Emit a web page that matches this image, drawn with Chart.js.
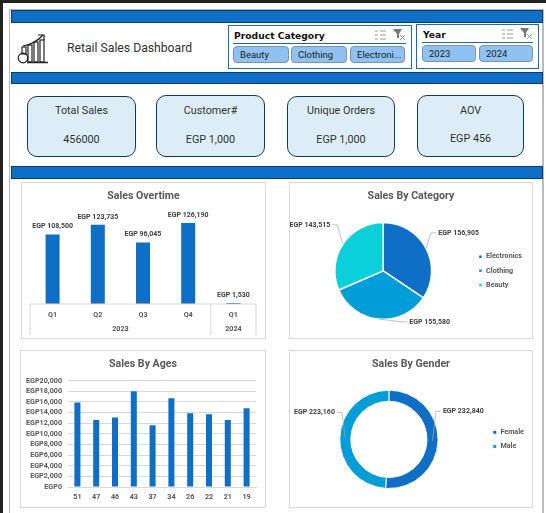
<!DOCTYPE html>
<html>
<head>
<meta charset="utf-8">
<script src="https://cdn.jsdelivr.net/npm/chart.js@4"></script>
<style>
html, body { margin: 0; padding: 0; }
body { width: 546px; height: 513px; overflow: hidden; background: #fff; font-family: Roboto, sans-serif; color: #222; position: relative; }
.abs { position: absolute; box-sizing: border-box; }
.band { left: 11px; width: 532px; background: #0f6fc6; border: 1px solid #0b3a66; }
.frame { left: 9px; top: 9px; width: 535px; height: 504px; border-left: 1px solid #bbb; border-top: 1px solid #bbb; border-right: 2px solid #bbb; }
.title { left: 67px; top: 41px; font-size: 12.2px; color: #333; }
.slicer { border: 1px solid #1d6aa8; background: #fff; }
.slicer b { position: absolute; font: bold 9.2px "DejaVu Sans", sans-serif; color: #111; }
.slicer hr { position: absolute; margin: 0; border: 0; height: 1px; background: #1d6aa8; }
.slicer svg { position: absolute; top: 3px; }
.btn { position: absolute; top: 20px; height: 17px; background: #8fc1f2; border: 1px solid #7a93ad; border-radius: 4px; font-size: 9.5px; line-height: 15px; padding-left: 6px; box-sizing: border-box; color: #222; white-space: nowrap; overflow: hidden; }
.kpi { background: #dcedf8; border: 1px solid #123a5c; border-radius: 10px; text-align: center; font-size: 10.8px; color: #333; }
.kpi span { position: absolute; left: 0; right: 0; }
.card { border: 1px solid #d9d9d9; background: #fff; }
.card canvas { display: block; }
</style>
</head>
<body>
<div class="abs" style="left:0;top:0;width:546px;height:3px;background:#222"></div>
<div class="abs" style="left:0;top:0;width:3px;height:513px;background:#222"></div>
<div class="abs frame"></div>
<div class="abs band" style="top:10px;height:13px"></div>
<div class="abs band" style="top:72px;height:12px"></div>
<div class="abs band" style="top:166px;height:13px"></div>

<svg class="abs" style="left:17px;top:33px" width="32" height="31" viewBox="0 0 32 31" fill="none" stroke="#222" stroke-width="1.2">
  <path d="M6 13 Q18 11 26 2"/><path d="M21 2h6v5"/>
  <rect x="5" y="14" width="4" height="7"/><rect x="11" y="12" width="4" height="17"/><rect x="17" y="9" width="4" height="20"/><rect x="23" y="7" width="4" height="22"/>
  <path d="M10 29.5h21" stroke-width="1.5"/><circle cx="6" cy="25" r="4.8"/>
</svg>
<div class="abs title">Retail Sales Dashboard</div>

<div class="abs slicer" style="left:228px;top:25px;width:184px;height:44px">
  <b style="left:5px;top:4px">Product Category</b>
  <svg style="left:145px" width="13" height="12" viewBox="0 0 13 12" stroke="#999" fill="none"><path d="M1 2h3M1 6h3M1 10h3M6 2h6M6 6h6M6 10h6"/></svg>
  <svg style="left:164px" width="13" height="12" viewBox="0 0 13 12"><path d="M0 0h9L6 5v4H4V5z" fill="#777"/><path d="M7 6l5 5M12 6l-5 5" stroke="#999"/></svg>
  <hr style="left:4px;right:5px;top:17px">
  <div class="btn" style="left:4px;width:56px">Beauty</div>
  <div class="btn" style="left:62px;width:56px">Clothing</div>
  <div class="btn" style="left:121px;width:55px">Electroni...</div>
</div>
<div class="abs slicer" style="left:416px;top:24px;width:123px;height:45px">
  <b style="left:6px;top:4px">Year</b>
  <svg style="left:84px" width="13" height="12" viewBox="0 0 13 12" stroke="#999" fill="none"><path d="M1 2h3M1 6h3M1 10h3M6 2h6M6 6h6M6 10h6"/></svg>
  <svg style="left:103px" width="13" height="12" viewBox="0 0 13 12"><path d="M0 0h9L6 5v4H4V5z" fill="#777"/><path d="M7 6l5 5M12 6l-5 5" stroke="#999"/></svg>
  <hr style="left:5px;right:5px;top:17px">
  <div class="btn" style="left:5px;width:54px">2023</div>
  <div class="btn" style="left:62px;width:54px">2024</div>
</div>

<div class="abs kpi" style="left:27px;top:96px;width:109px;height:61px"><span style="top:7px">Total Sales</span><span style="top:36px">456000</span></div>
<div class="abs kpi" style="left:156px;top:95px;width:109px;height:62px"><span style="top:8px">Customer#</span><span style="top:37px">EGP 1,000</span></div>
<div class="abs kpi" style="left:287px;top:96px;width:108px;height:61px"><span style="top:7px">Unique Orders</span><span style="top:36px">EGP 1,000</span></div>
<div class="abs kpi" style="left:417px;top:95px;width:107px;height:62px"><span style="top:8px">AOV</span><span style="top:36px">EGP 456</span></div>

<div class="abs card" style="left:21px;top:182px;width:245px;height:157px"><canvas id="salesOvertime" width="243" height="155"></canvas></div>
<div class="abs card" style="left:289px;top:182px;width:244px;height:157px"><canvas id="salesCategory" width="242" height="155"></canvas></div>
<div class="abs card" style="left:20px;top:350px;width:246px;height:158px"><canvas id="salesAges" width="244" height="156"></canvas></div>
<div class="abs card" style="left:289px;top:350px;width:244px;height:158px"><canvas id="salesGender" width="242" height="156"></canvas></div>

<script>
const quarterLabels = ["Q1", "Q2", "Q3", "Q4", "Q1"];
const quarterYears = ["2023", "2023", "2023", "2023", "2024"];
const quarterValues = [108500, 123735, 96045, 126190, 1530];

const categoryLabels = ["Electronics", "Clothing", "Beauty"];
const categoryValues = [156905, 155580, 143515];

const ageLabels = ["51", "47", "46", "43", "37", "34", "26", "22", "21", "19"];
const ageValues = [15900, 12600, 13100, 18000, 11600, 16700, 13900, 13700, 12600, 14800];

const genderLabels = ["Female", "Male"];
const genderValues = [232840, 223160];

const BLUE = "#0f6fc6", MID = "#009dd9", CYAN = "#0bd0d9";
const GREY = "#595959", GRID = "#d9d9d9";
const FONT = "Roboto, sans-serif";

const egp = (v) => "EGP " + v.toLocaleString("en-US");

Chart.defaults.font.family = FONT;
Chart.defaults.animation = false;
Chart.defaults.responsive = false;
Chart.defaults.plugins.tooltip.enabled = false;

const titleOpts = (text, gap) => ({
    display: true,
    text: text,
    color: GREY,
    font: { size: 10.6, weight: "bold", family: FONT },
    padding: { top: 0, bottom: gap },
});

// keep the title centred on the card, the layout padding moves it otherwise
const centreTitle = {
    id: "centreTitle",
    beforeDraw(chart) {
        chart.titleBlock.left = 0;
        chart.titleBlock.right = chart.width;
    },
};

// value labels over the bars
const barLabels = {
    id: "barLabels",
    afterDatasetsDraw(chart) {
        const { ctx } = chart;
        ctx.save();
        ctx.font = "bold 7px " + FONT;
        ctx.fillStyle = "#404040";
        ctx.textAlign = "center";
        chart.getDatasetMeta(0).data.forEach((bar, i) => {
            ctx.fillText(egp(quarterValues[i]), bar.x, bar.y - 6);
        });
        ctx.restore();
    },
};

// two level category axis, excel style
const yearAxis = {
    id: "yearAxis",
    afterDraw(chart) {
        const { ctx, chartArea: area } = chart;
        const x = chart.scales.x;
        const step = x.getPixelForValue(1) - x.getPixelForValue(0);
        const left = x.getPixelForValue(0) - step / 2;
        const right = x.getPixelForValue(4) + step / 2;
        const split = x.getPixelForValue(3) + step / 2;
        const bottom = area.bottom + 31;
        ctx.save();
        ctx.strokeStyle = GRID;
        ctx.lineWidth = 1;
        ctx.beginPath();
        ctx.moveTo(left, bottom); ctx.lineTo(left, area.bottom); ctx.lineTo(right, area.bottom); ctx.lineTo(right, bottom);
        ctx.moveTo(split, area.bottom); ctx.lineTo(split, bottom);
        ctx.stroke();
        ctx.font = "bold 7.2px " + FONT;
        ctx.fillStyle = GREY;
        ctx.textAlign = "center";
        ctx.fillText(quarterYears[0], (left + split) / 2, area.bottom + 27);
        ctx.fillText(quarterYears[4], (split + right) / 2, area.bottom + 27);
        ctx.restore();
    },
};

// labels with leader lines for pie and doughnut, offsets are the elbow per slice
const leaderLabels = (values, offsets) => ({
    id: "leaderLabels",
    afterDatasetsDraw(chart) {
        const { ctx } = chart;
        ctx.save();
        ctx.font = "bold 7px " + FONT;
        chart.getDatasetMeta(0).data.forEach((arc, i) => {
            const mid = (arc.startAngle + arc.endAngle) / 2;
            const r = arc.outerRadius - offsets[i].inset;
            const lx = arc.x + offsets[i].dx;
            const ly = arc.y + offsets[i].dy;
            const dir = offsets[i].dx > 0 ? 1 : -1;
            ctx.strokeStyle = "#a6a6a6";
            ctx.lineWidth = 0.7;
            ctx.beginPath();
            ctx.moveTo(arc.x + Math.cos(mid) * r, arc.y + Math.sin(mid) * r);
            ctx.lineTo(lx, ly);
            ctx.lineTo(lx + dir * 5, ly);
            ctx.stroke();
            ctx.fillStyle = "#404040";
            ctx.textAlign = dir > 0 ? "left" : "right";
            ctx.textBaseline = "middle";
            ctx.fillText(egp(values[i]), lx + dir * 7, ly);
        });
        ctx.restore();
    },
});

const smallLegend = {
    position: "right",
    fullSize: false,
    labels: { boxWidth: 4, boxHeight: 4, padding: 7, color: GREY, font: { size: 7.2, weight: "bold" } },
};

new Chart(document.getElementById("salesOvertime"), {
    type: "bar",
    data: {
        labels: quarterLabels,
        datasets: [{ data: quarterValues, backgroundColor: BLUE, barPercentage: 0.31, categoryPercentage: 1 }],
    },
    options: {
        layout: { padding: { top: 7, left: 8, right: 9, bottom: 4 } },
        plugins: { legend: { display: false }, title: titleOpts("Sales Overtime", 0) },
        scales: {
            x: {
                grid: { display: false, drawTicks: false },
                border: { display: false },
                ticks: { color: GREY, padding: 7, font: { size: 7.2, weight: "bold" }, maxRotation: 0 },
                afterFit(axis) { axis.height = 30; },
            },
            y: { display: false, min: 0, max: 158000 },
        },
    },
    plugins: [barLabels, yearAxis, centreTitle],
});

new Chart(document.getElementById("salesCategory"), {
    type: "pie",
    data: {
        labels: categoryLabels,
        datasets: [{ data: categoryValues, backgroundColor: [BLUE, MID, CYAN], borderColor: "#fff", borderWidth: 1.5 }],
    },
    options: {
        layout: { padding: { top: 7, bottom: 18, left: 5, right: 0 } },
        plugins: { legend: smallLegend, title: titleOpts("Sales By Category", 19) },
    },
    plugins: [centreTitle, leaderLabels(categoryValues, [
        { dx: 48, dy: -38, inset: 0 },
        { dx: 19, dy: 51, inset: 0 },
        { dx: -46, dy: -46, inset: 0 },
    ])],
});

new Chart(document.getElementById("salesAges"), {
    type: "bar",
    data: {
        labels: ageLabels,
        datasets: [{ data: ageValues, backgroundColor: BLUE, barPercentage: 0.32, categoryPercentage: 1 }],
    },
    options: {
        layout: { padding: { top: 7, right: 9 } },
        plugins: { legend: { display: false }, title: titleOpts("Sales By Ages", 10) },
        scales: {
            x: {
                grid: { display: false, drawTicks: false },
                border: { color: GRID },
                ticks: { color: GREY, padding: 6, font: { size: 7.2, weight: "bold" }, maxRotation: 0, autoSkip: false },
                afterFit(axis) { axis.height = 20; },
            },
            y: {
                min: 0,
                max: 20000,
                grid: { color: GRID, drawTicks: false },
                border: { display: false },
                ticks: { stepSize: 2000, autoSkip: false, color: GREY, padding: 6, font: { size: 7.2, weight: "bold" }, callback: (v) => "EGP" + v.toLocaleString("en-US") },
                afterFit(axis) { axis.width = 47; },
            },
        },
    },
    plugins: [centreTitle],
});

new Chart(document.getElementById("salesGender"), {
    type: "doughnut",
    data: {
        labels: genderLabels,
        datasets: [{ data: genderValues, backgroundColor: [BLUE, MID], borderColor: "#fff", borderWidth: 1 }],
    },
    options: {
        cutout: "77.5%",
        layout: { padding: { top: 7, bottom: 18, left: 2, right: -2 } },
        plugins: { legend: smallLegend, title: titleOpts("Sales By Gender", 19) },
    },
    plugins: [centreTitle, leaderLabels(genderValues, [
        { dx: 47, dy: -28, inset: 5.5 },
        { dx: -47, dy: -27, inset: 5.5 },
    ])],
});
</script>
</body>
</html>
